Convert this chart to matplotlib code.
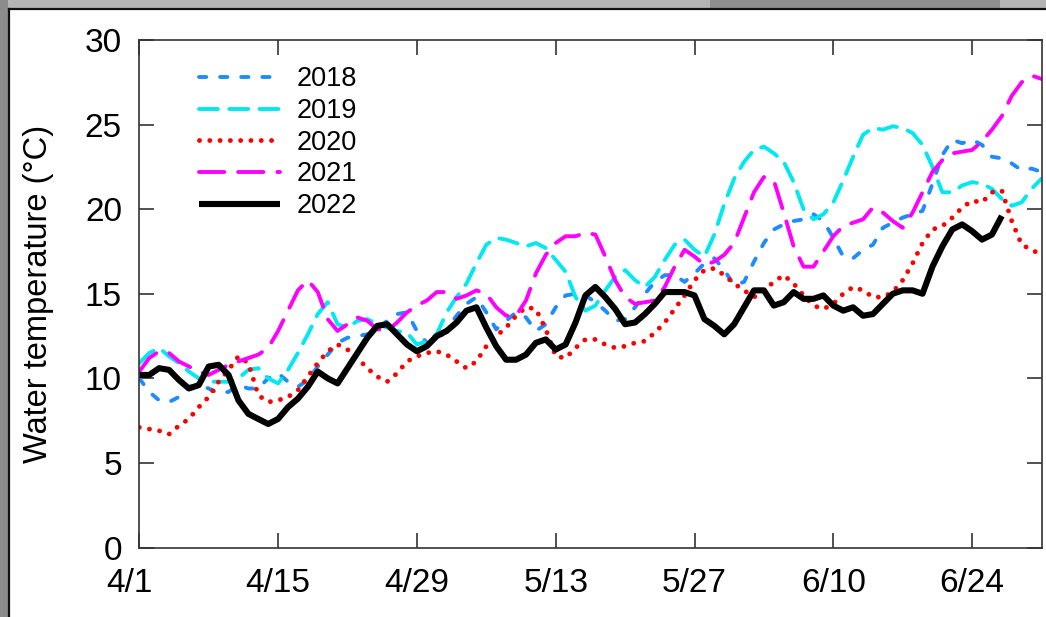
import matplotlib
matplotlib.use('Agg')
import matplotlib.pyplot as plt
import numpy as np
from matplotlib.patches import Rectangle
from matplotlib.lines import Line2D
from matplotlib.transforms import ScaledTranslation

plt.rcParams['font.family'] = ['Liberation Sans', 'DejaVu Sans']
plt.rcParams['lines.scale_dashes'] = False

# ---------------- data (daily water temperature from April 1) ----------------
tick_labels = ['4/1', '4/15', '4/29', '5/13', '5/27', '6/10', '6/24']
years = ['2018', '2019', '2020', '2021', '2022']

t2018 = [10.0, 9.2, 8.7, 8.6, 8.9, 9.5, 9.6, 9.4, 9.1, 9.2,
         9.6, 9.4, 9.4, 10.0, 10.3, 9.8, 9.5, 9.9, 10.7, 11.4,
         12.1, 12.4, 12.5, 12.6, 12.9, 13.4, 13.8, 13.9, 12.8, 12.1,
         12.2, 12.9, 13.7, 14.4, 14.8, 13.9, 12.9, 13.4, 13.9, 13.6,
         12.8, 13.2, 14.2, 14.9, 15.0, 14.9, 14.5, 14.0, 13.4, 13.5,
         14.2, 15.0, 15.7, 16.1, 16.1, 15.7, 16.2, 16.8, 17.1, 16.4,
         15.5, 15.7, 16.9, 18.0, 18.8, 19.1, 19.3, 19.4, 19.7, 19.3,
         18.3, 17.2, 17.1, 17.6, 17.9, 18.9, 19.2, 19.5, 19.7, 19.9,
         21.5, 23.2, 24.1, 23.9, 24.1, 23.8, 23.1, 23.0, 22.7, 22.3,
         22.4, 22.2]

t2019 = [10.9, 11.5, 11.8, 11.3, 10.9, 10.4, 10.0, 9.8, 9.8, 9.8,
         10.0, 10.5, 10.6, 10.0, 9.7, 10.5, 11.5, 12.6, 13.8, 14.5,
         13.2, 13.0, 13.4, 13.5, 13.2, 13.0, 12.8, 12.7, 12.0, 12.2,
         12.6, 13.9, 14.8, 15.6, 16.8, 17.9, 18.3, 18.2, 18.0, 17.8,
         18.0, 17.7, 17.0, 16.3, 14.8, 14.0, 14.3, 15.2, 16.0, 16.4,
         15.8, 15.4, 16.0, 17.0, 17.9, 18.2, 17.6, 17.2, 18.5, 20.3,
         21.8, 22.8, 23.5, 23.7, 23.3, 22.8, 21.6, 20.0, 19.4, 19.7,
         20.4, 21.7, 23.1, 24.4, 24.8, 24.7, 24.9, 24.8, 24.5, 23.8,
         22.5, 21.0, 21.0, 21.4, 21.6, 21.5, 21.2, 20.6, 20.2, 20.4,
         21.2, 21.8]

t2020 = [7.1, 7.0, 6.9, 6.7, 7.2, 7.6, 8.3, 8.9, 9.8, 10.5,
         11.3, 10.9, 9.0, 8.6, 8.7, 8.9, 9.3, 10.1, 10.9, 11.6,
         12.0, 11.7, 11.2, 10.6, 10.1, 9.8, 10.3, 11.0, 11.3, 11.5,
         11.6, 11.4, 11.0, 10.6, 11.0, 11.9, 12.5, 13.0, 13.7, 14.2,
         14.1, 12.9, 11.3, 11.2, 11.8, 12.3, 12.3, 12.0, 11.8, 11.9,
         12.1, 12.2, 12.7, 13.3, 14.1, 14.9, 15.8, 16.4, 16.5, 16.1,
         15.6, 15.2, 14.8, 15.2, 15.7, 16.1, 15.6, 14.9, 14.3, 14.1,
         14.4, 15.0, 15.4, 15.2, 14.8, 14.8, 15.1, 15.8, 16.8, 18.0,
         18.8, 19.0, 19.5, 20.1, 20.5, 20.4, 21.0, 21.1, 19.3, 17.9,
         17.6, 17.3]

t2021 = [10.4, 11.2, 11.6, 11.5, 11.0, 10.7, 10.4, 10.2, 10.5, 10.8,
         11.0, 11.2, 11.4, 11.8, 12.8, 14.0, 15.2, 15.8, 15.1, 13.5,
         12.8, 13.2, 13.6, 13.4, 12.9, 12.8, 13.3, 13.9, 14.3, 14.6,
         15.1, 15.1, 14.7, 14.9, 15.2, 15.0, 14.2, 13.7, 13.7, 14.6,
         16.2, 17.3, 18.0, 18.4, 18.4, 18.6, 18.5, 17.2, 15.8, 14.8,
         14.4, 14.5, 14.6, 15.4, 16.6, 17.6, 17.2, 16.7, 16.9, 17.3,
         18.0, 19.5, 21.0, 21.9, 21.7, 19.8, 17.8, 16.6, 16.6, 17.5,
         18.4, 19.0, 19.2, 19.4, 20.1, 19.8, 19.3, 18.9, 19.8, 21.0,
         22.2, 22.9, 23.3, 23.4, 23.5, 24.0, 24.7, 25.5, 26.7, 27.5,
         27.9, 27.7]

t2022 = [10.2, 10.2, 10.6, 10.5, 9.9, 9.4, 9.6, 10.7, 10.8, 10.2,
         8.7, 7.9, 7.6, 7.3, 7.6, 8.3, 8.8, 9.5, 10.4, 10.0,
         9.7, 10.6, 11.5, 12.4, 13.1, 13.2, 12.6, 12.0, 11.6, 11.9,
         12.5, 12.8, 13.3, 14.0, 14.2, 13.0, 11.9, 11.1, 11.1, 11.4,
         12.1, 12.3, 11.7, 12.0, 13.3, 14.9, 15.4, 14.8, 14.1, 13.2,
         13.3, 13.8, 14.4, 15.1, 15.1, 15.1, 14.9, 13.5, 13.1, 12.6,
         13.2, 14.2, 15.2, 15.2, 14.3, 14.5, 15.1, 14.7, 14.7, 14.9,
         14.3, 14.0, 14.2, 13.7, 13.8, 14.4, 15.0, 15.2, 15.2, 15.0,
         16.6, 17.8, 18.8, 19.1, 18.7, 18.2, 18.5, 19.6]

series = [t2018, t2019, t2020, t2021, t2022]

# ---------------- styles ----------------
styles = [
    dict(color='#1E8CFA', lw=2.8, dashes=(5.2, 10.0), dash_capstyle='round'),
    dict(color='#00E8F0', lw=2.8, dashes=(13.6, 8.2), dash_capstyle='round'),
    dict(color='#FF0000', lw=3.5, dashes=(0.01, 7.4), dash_capstyle='round'),
    dict(color='#FF00FF', lw=2.8, dashes=(18.2, 10.0), dash_capstyle='round'),
    dict(color='#000000', lw=4.4, linestyle='-', solid_joinstyle='round',
         solid_capstyle='butt'),
]

W, H = 1046, 617
fig = plt.figure(figsize=(W / 100, H / 100), dpi=100)
fig.patch.set_facecolor('white')

left_px, right_px, top_px, bot_px = 139.3, 1041.5, 40.0, 547.5
ax = fig.add_axes([left_px / W, 1 - bot_px / H, (right_px - left_px) / W,
                   (bot_px - top_px) / H])

for vals, yr, st in zip(series, years, styles):
    x = np.arange(len(vals))
    ax.plot(x, vals, label=yr, **st)

ax.set_xlim(0, 91)
ax.set_ylim(0, 30)
ax.set_yticks(np.arange(0, 31, 5))
ax.set_xticks(np.arange(len(tick_labels)) * 14)
ax.set_xticklabels(tick_labels)

for s in ax.spines.values():
    s.set_linewidth(1.2)
    s.set_color('#333333')

ax.tick_params(direction='in', top=True, right=True, length=10.5, width=1.2,
               color='#333333', labelsize=24, labelcolor='black')
ax.tick_params(axis='y', pad=12.5)
ax.tick_params(axis='x', pad=14.5)

# the first date label sits slightly left of its tick in the original
first = ax.get_xticklabels()[0]
first.set_transform(first.get_transform() +
                    ScaledTranslation(-10 / 100, 0, fig.dpi_scale_trans))

ax.set_ylabel('Water temperature (°C)', fontsize=23.5, labelpad=22)

leg = ax.legend(loc='upper left', bbox_to_anchor=(0.066, 0.948), frameon=False,
                fontsize=19.5, handlelength=3.0, handletextpad=0.62,
                labelspacing=0.21, borderpad=0, borderaxespad=0)

# ---------------- screenshot frame (gray border + black edge) ----------------
fig.add_artist(Rectangle((0, 1 - 8 / H), 1, 8 / H, transform=fig.transFigure,
                         facecolor='#b4b4b4', edgecolor='none', zorder=0))
fig.add_artist(Rectangle((710 / W, 1 - 8 / H), 290 / W, 8 / H, transform=fig.transFigure,
                         facecolor='#8f8f8f', edgecolor='none', zorder=0))
fig.add_artist(Rectangle((0, 0), 8 / W, 1, transform=fig.transFigure,
                         facecolor='#8c8c8c', edgecolor='none', zorder=0))
fig.add_artist(Line2D([8.5 / W, 8.5 / W], [0, 1 - 8.5 / H], transform=fig.transFigure,
                      color='#111111', lw=1.6))
fig.add_artist(Line2D([8.5 / W, 1], [1 - 8.5 / H, 1 - 8.5 / H], transform=fig.transFigure,
                      color='#111111', lw=1.6))

fig.savefig('out.png', dpi=100, facecolor=fig.get_facecolor())
